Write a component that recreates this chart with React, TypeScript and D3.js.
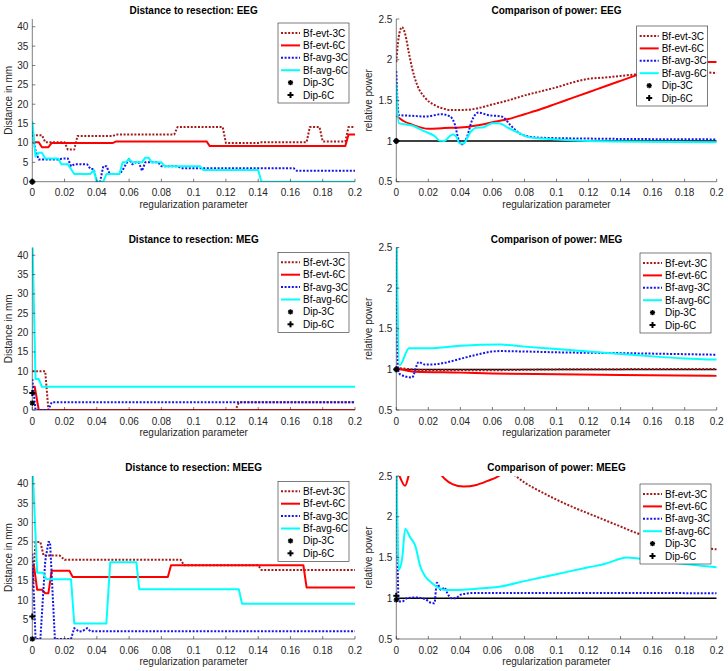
import React from "react";
import * as d3 from "d3";

type Pt = [number, number];

// ---------- shared ticks / labels ----------
const xTicks = [0, 0.02, 0.04, 0.06, 0.08, 0.1, 0.12, 0.14, 0.16, 0.18, 0.2];
const distTicks = [0, 5, 10, 15, 20, 25, 30, 35, 40];
const powTicks = [0.5, 1, 1.5, 2, 2.5];
const seriesNames = ["Bf-evt-3C", "Bf-evt-6C", "Bf-avg-3C", "Bf-avg-6C", "Dip-3C", "Dip-6C"];
const titles = [
  "Distance to resection: EEG",
  "Comparison of power: EEG",
  "Distance to resection: MEG",
  "Comparison of power: MEG",
  "Distance to resection: MEEG",
  "Comparison of power: MEEG",
];

// ---------- EEG distance ----------
const eegDistEvt3: Pt[] = [[0, 12], [0.006, 12], [0.008, 10.2], [0.02, 10.2], [0.022, 8.3], [0.026, 8.3], [0.028, 11.8], [0.05, 11.8], [0.052, 12.2], [0.088, 12.2], [0.09, 14.1], [0.118, 14.1], [0.12, 10], [0.14, 10], [0.142, 10.2], [0.17, 10.2], [0.172, 14.1], [0.178, 14.1], [0.18, 10.4], [0.194, 10.4], [0.196, 14.1], [0.2, 14.1]];
const eegDistEvt6: Pt[] = [[0, 10.2], [0.004, 10.2], [0.006, 8.9], [0.01, 8.9], [0.012, 10], [0.05, 10], [0.052, 10.4], [0.108, 10.4], [0.11, 9.2], [0.194, 9.2], [0.196, 12.2], [0.2, 12.2]];
const eegDistAvg3: Pt[] = [[0, 13], [0.002, 8], [0.004, 5.7], [0.016, 5.7], [0.018, 5.9], [0.02, 6], [0.022, 6], [0.024, 4], [0.026, 4.5], [0.034, 4.5], [0.036, 3.3], [0.038, 3.3], [0.04, 0], [0.042, 0], [0.044, 4], [0.046, 4], [0.048, 2], [0.054, 2], [0.056, 3], [0.058, 4.5], [0.06, 5.9], [0.062, 4.5], [0.064, 5], [0.066, 5], [0.068, 2.8], [0.07, 5], [0.078, 5], [0.08, 4], [0.09, 4], [0.092, 3.5], [0.162, 3.5], [0.164, 2.8], [0.2, 2.8]];
const eegDistAvg6: Pt[] = [[0, 15.6], [0.002, 6.5], [0.004, 7.5], [0.006, 7.5], [0.008, 6], [0.016, 6], [0.018, 4.5], [0.022, 4.5], [0.026, 2], [0.036, 2], [0.038, 3], [0.04, 0], [0.044, 0], [0.046, 2], [0.054, 2], [0.056, 5], [0.058, 5], [0.06, 5.9], [0.062, 5], [0.068, 5], [0.07, 6.2], [0.072, 6.2], [0.074, 5], [0.08, 5], [0.082, 4], [0.104, 4], [0.106, 3], [0.14, 3], [0.142, 0], [0.2, 0]];
const eegDistDip = [0, 0];

// ---------- EEG power ----------
const eegPowEvt3: Pt[] = [[0, 1.97], [0.001, 2.2], [0.002, 2.33], [0.0036, 2.4], [0.0056, 2.31], [0.0077, 2.1], [0.0098, 1.9], [0.013, 1.69], [0.018, 1.53], [0.024, 1.44], [0.03, 1.395], [0.034, 1.38], [0.045, 1.385], [0.05, 1.4], [0.06, 1.45], [0.07, 1.5], [0.08, 1.56], [0.09, 1.61], [0.1, 1.66], [0.11, 1.72], [0.12, 1.765], [0.13, 1.78], [0.14, 1.8], [0.15, 1.82], [0.16, 1.84], [0.17, 1.85], [0.18, 1.855], [0.19, 1.85], [0.2, 1.835]];
const eegPowEvt6: Pt[] = [[0, 1.31], [0.005, 1.24], [0.01, 1.2], [0.02, 1.15], [0.03, 1.16], [0.04, 1.165], [0.05, 1.19], [0.06, 1.23], [0.07, 1.27], [0.08, 1.33], [0.09, 1.39], [0.1, 1.46], [0.11, 1.53], [0.12, 1.6], [0.13, 1.67], [0.14, 1.74], [0.15, 1.81], [0.16, 1.88], [0.17, 1.93], [0.18, 1.96], [0.19, 1.97], [0.2, 1.97]];
const eegPowAvg3: Pt[] = [[0, 1.86], [0.0015, 1.32], [0.01, 1.31], [0.018, 1.3], [0.0285, 1.33], [0.0337, 1.3], [0.0366, 1.2], [0.039, 1.01], [0.0414, 0.96], [0.044, 1.04], [0.047, 1.24], [0.0514, 1.35], [0.057, 1.32], [0.066, 1.3], [0.071, 1.2], [0.0764, 1.1], [0.083, 1.055], [0.091, 1.04], [0.12, 1.03], [0.2, 1.02]];
const eegPowAvg6: Pt[] = [[0, 1.71], [0.0015, 1.22], [0.0098, 1.19], [0.018, 1.115], [0.0243, 1.055], [0.027, 1.005], [0.03, 1.0], [0.0337, 1.065], [0.0355, 1.08], [0.0376, 1.05], [0.0395, 0.97], [0.042, 0.97], [0.046, 1.1], [0.0493, 1.16], [0.0545, 1.17], [0.06, 1.22], [0.064, 1.22], [0.07, 1.16], [0.0764, 1.1], [0.083, 1.045], [0.091, 1.03], [0.12, 1.0], [0.2, 0.985]];
const eegPowDip = [1, 1];

// ---------- MEG distance ----------
const megDistEvt3: Pt[] = [[0, 10], [0.008, 10], [0.01, 0], [0.126, 0], [0.128, 2], [0.2, 2]];
const megDistEvt6: Pt[] = [[0, 6], [0.0015, 6], [0.004, 0], [0.2, 0]];
const megDistAvg3: Pt[] = [[0, 8], [0.002, 0], [0.01, 0], [0.012, 2], [0.2, 2]];
const megDistAvg6: Pt[] = [[0, 46], [0.002, 8], [0.004, 8], [0.006, 6], [0.2, 6]];
const megDistDip = [1.8, 4.4];

// ---------- MEG power ----------
const megPowEvt3: Pt[] = [[0, 1.02], [0.01, 1.0], [0.02, 0.99], [0.06, 0.99], [0.1, 1.0], [0.2, 1.005]];
const megPowEvt6: Pt[] = [[0, 1.02], [0.012, 0.97], [0.04, 0.96], [0.06, 0.95], [0.1, 0.94], [0.14, 0.93], [0.2, 0.92]];
const megPowAvg3: Pt[] = [[0, 2.9], [0.001, 1.0], [0.0023, 0.94], [0.0098, 0.9], [0.014, 1.09], [0.0178, 1.06], [0.0215, 1.06], [0.03, 1.08], [0.04, 1.13], [0.05, 1.18], [0.06, 1.22], [0.065, 1.225], [0.08, 1.22], [0.1, 1.21], [0.14, 1.2], [0.2, 1.18]];
const megPowAvg6: Pt[] = [[0, 2.9], [0.002, 1.05], [0.008, 1.26], [0.02, 1.26], [0.04, 1.29], [0.065, 1.305], [0.08, 1.28], [0.1, 1.25], [0.12, 1.22], [0.14, 1.19], [0.16, 1.16], [0.18, 1.135], [0.2, 1.12]];
const megPowDip = [1, 1];

// ---------- MEEG distance ----------
const meegDistEvt3: Pt[] = [[0, 12.5], [0.002, 25], [0.005, 25], [0.007, 21.5], [0.017, 21.5], [0.02, 20.4], [0.092, 20.4], [0.094, 19], [0.14, 19], [0.142, 17.8], [0.2, 17.8]];
const meegDistEvt6: Pt[] = [[0, 16.5], [0.001, 19], [0.003, 12.7], [0.006, 12.7], [0.008, 11.8], [0.01, 11.8], [0.012, 17.6], [0.023, 17.6], [0.025, 16], [0.084, 16], [0.086, 19], [0.168, 19], [0.17, 13.3], [0.2, 13.3]];
const meegDistAvg3: Pt[] = [[0, 22], [0.002, 0], [0.005, 0], [0.008, 20], [0.01, 25], [0.011, 25], [0.014, 0], [0.024, 0], [0.026, 2.8], [0.029, 1.9], [0.031, 2], [0.034, 2.8], [0.036, 2], [0.2, 2]];
const meegDistAvg6: Pt[] = [[0, 46], [0.003, 17.1], [0.0066, 17.1], [0.0087, 15.4], [0.024, 15.4], [0.026, 4], [0.0459, 4], [0.0483, 19.8], [0.0645, 19.8], [0.0663, 12.8], [0.128, 12.8], [0.13, 9.1], [0.2, 9.1]];
const meegDistDip = [0, 5.8];

// ---------- MEEG power ----------
const meegPowEvt3: Pt[] = [[0, 3.6], [0.03, 3.1], [0.05, 2.85], [0.07, 2.57], [0.0745, 2.5], [0.08, 2.42], [0.09, 2.31], [0.1, 2.21], [0.11, 2.12], [0.12, 2.04], [0.13, 1.96], [0.14, 1.88], [0.15, 1.8], [0.16, 1.74], [0.17, 1.69], [0.18, 1.65], [0.19, 1.62], [0.2, 1.6]];
const meegPowEvt6: Pt[] = [[0, 2.6], [0.002, 2.5], [0.0055, 2.38], [0.008, 2.52], [0.012, 2.7], [0.02, 2.7], [0.026, 2.56], [0.03, 2.47], [0.035, 2.4], [0.042, 2.37], [0.05, 2.39], [0.057, 2.44], [0.064, 2.5], [0.07, 2.6], [0.1, 2.85], [0.2, 3.3]];
const meegPowAvg3: Pt[] = [[0, 2.9], [0.0015, 0.96], [0.0036, 0.96], [0.0066, 1.0], [0.012, 1.01], [0.018, 0.99], [0.0223, 0.94], [0.0238, 0.94], [0.0253, 1.19], [0.028, 1.1], [0.03, 1.13], [0.0318, 1.065], [0.0343, 1.0], [0.0367, 1.0], [0.041, 1.05], [0.049, 1.065], [0.1, 1.065], [0.2, 1.062]];
const meegPowAvg6: Pt[] = [[0, 2.9], [0.0015, 1.35], [0.0036, 1.48], [0.0056, 1.85], [0.0087, 1.745], [0.0119, 1.64], [0.015, 1.39], [0.018, 1.27], [0.022, 1.19], [0.0265, 1.127], [0.0306, 1.1], [0.049, 1.115], [0.066, 1.147], [0.08, 1.21], [0.1, 1.295], [0.12, 1.38], [0.13, 1.42], [0.144, 1.5], [0.16, 1.46], [0.18, 1.42], [0.2, 1.38]];
const meegPowDip = [0.98, 1.03];

// ---------- styling ----------
const styles = [
  { color: "#a31a1a", dash: "2 1.6", width: 2 },
  { color: "#ff0000", dash: "", width: 2 },
  { color: "#1515e8", dash: "2 1.6", width: 2 },
  { color: "#00ffff", dash: "", width: 2 },
];
const FONT = "'Liberation Sans', Arial, Helvetica, sans-serif";
const AX = "#262626";

type PanelDef = {
  title: string;
  kind: "dist" | "pow";
  series: Pt[][];
  dip: number[];
  x0: number;
  x1: number;
  y0: number;
  y1: number;
  legX: number;
  legY: number;
};

const colX = [
  [32.3, 355],
  [396.3, 716.7],
];
const rowY = [
  [19, 181.7],
  [247.5, 410],
  [476, 639],
];
const legendPos = [
  [278, 23],
  [636.7, 26],
  [278, 252.3],
  [640, 253],
  [278, 481.3],
  [640, 484],
];

const allSeries = [
  [eegDistEvt3, eegDistEvt6, eegDistAvg3, eegDistAvg6],
  [eegPowEvt3, eegPowEvt6, eegPowAvg3, eegPowAvg6],
  [megDistEvt3, megDistEvt6, megDistAvg3, megDistAvg6],
  [megPowEvt3, megPowEvt6, megPowAvg3, megPowAvg6],
  [meegDistEvt3, meegDistEvt6, meegDistAvg3, meegDistAvg6],
  [meegPowEvt3, meegPowEvt6, meegPowAvg3, meegPowAvg6],
];
const allDips = [eegDistDip, eegPowDip, megDistDip, megPowDip, meegDistDip, meegPowDip];

const panels: PanelDef[] = titles.map((t, i) => {
  const c = i % 2;
  const r = Math.floor(i / 2);
  return {
    title: t,
    kind: c === 0 ? "dist" : "pow",
    series: allSeries[i],
    dip: allDips[i],
    x0: colX[c][0],
    x1: colX[c][1],
    y0: rowY[r][0],
    y1: rowY[r][1],
    legX: legendPos[i][0],
    legY: legendPos[i][1],
  };
});

function Star({ x, y }: { x: number; y: number }) {
  const s = 2.6;
  return (
    <g stroke="#000" strokeWidth={1.4}>
      <line x1={x - s} y1={y} x2={x + s} y2={y} />
      <line x1={x} y1={y - s} x2={x} y2={y + s} />
      <line x1={x - s * 0.75} y1={y - s * 0.75} x2={x + s * 0.75} y2={y + s * 0.75} />
      <line x1={x - s * 0.75} y1={y + s * 0.75} x2={x + s * 0.75} y2={y - s * 0.75} />
    </g>
  );
}
function Plus({ x, y }: { x: number; y: number }) {
  const s = 3;
  return (
    <g stroke="#000" strokeWidth={2}>
      <line x1={x - s} y1={y} x2={x + s} y2={y} />
      <line x1={x} y1={y - s} x2={x} y2={y + s} />
    </g>
  );
}

function Panel({ p, idx }: { p: PanelDef; idx: number }) {
  const xs = d3.scaleLinear().domain([0, 0.2]).range([p.x0, p.x1]);
  const ys =
    p.kind === "dist"
      ? d3.scaleLinear().domain([0, 42]).range([p.y1, p.y0])
      : d3.scaleLinear().domain([0.5, 2.5]).range([p.y1, p.y0]);
  const yt = p.kind === "dist" ? distTicks : powTicks;
  const line = d3
    .line<Pt>()
    .x((d) => xs(d[0]))
    .y((d) => ys(d[1]))
    .curve(p.kind === "pow" ? d3.curveMonotoneX : d3.curveLinear);
  const clipId = `clip${idx}`;
  const cx = (p.x0 + p.x1) / 2;
  const cy = (p.y0 + p.y1) / 2;
  const ylabel = p.kind === "dist" ? "Distance in mm" : "relative power";
  const fmt = (v: number) => String(v);
  return (
    <g>
      <defs>
        <clipPath id={clipId}>
          <rect x={p.x0} y={p.y0} width={p.x1 - p.x0} height={p.y1 - p.y0} />
        </clipPath>
      </defs>
      {/* title */}
      <text x={cx} y={p.y0 - 5} textAnchor="middle" fontSize={10} fontWeight="bold" fill="#000">
        {p.title}
      </text>
      {/* data */}
      <g clipPath={`url(#${clipId})`}>
        {p.kind === "pow" && (
          <line x1={xs(0)} x2={xs(0.2)} y1={ys(1)} y2={ys(1)} stroke="#000" strokeWidth={1.5} />
        )}
        {p.series.map((s, k) => (
          <path
            key={k}
            d={line(s) || ""}
            fill="none"
            stroke={styles[k].color}
            strokeWidth={styles[k].width}
            strokeDasharray={styles[k].dash || undefined}
            strokeLinejoin="round"
          />
        ))}
      </g>
      {/* axes */}
      <line x1={p.x0} x2={p.x1} y1={p.y1} y2={p.y1} stroke={AX} strokeWidth={0.6} />
      <line x1={p.x0} x2={p.x0} y1={p.y0} y2={p.y1} stroke={AX} strokeWidth={0.6} />
      {xTicks.map((t) => (
        <g key={"x" + t}>
          <line x1={xs(t)} x2={xs(t)} y1={p.y1} y2={p.y1 - 3} stroke={AX} strokeWidth={0.6} />
          <text x={xs(t)} y={p.y1 + 14.5} textAnchor="middle" fontSize={10} fill={AX}>
            {fmt(t)}
          </text>
        </g>
      ))}
      {yt.map((t) => (
        <g key={"y" + t}>
          <line x1={p.x0} x2={p.x0 + 3} y1={ys(t)} y2={ys(t)} stroke={AX} strokeWidth={0.6} />
          <text x={p.x0 - 4} y={ys(t) + 3.5} textAnchor="end" fontSize={10} fill={AX}>
            {fmt(t)}
          </text>
        </g>
      ))}
      <text x={cx} y={p.y1 + 26} textAnchor="middle" fontSize={10} fill={AX}>
        regularization parameter
      </text>
      <text
        transform={`translate(${p.kind === "dist" ? p.x0 - 20.5 : p.x0 - 24},${cy}) rotate(-90)`}
        textAnchor="middle"
        fontSize={10}
        fill={AX}
      >
        {ylabel}
      </text>
      {/* dipole markers */}
      <Star x={xs(0)} y={ys(p.dip[0])} />
      <Plus x={xs(0)} y={ys(p.dip[1])} />
      {/* legend */}
      <g>
        <rect x={p.legX} y={p.legY} width={71} height={80} fill="#fff" stroke={AX} strokeWidth={0.6} />
        {seriesNames.map((n, k) => {
          const yy = p.legY + 10 + k * 12.4;
          return (
            <g key={n}>
              {k < 4 ? (
                <line
                  x1={p.legX + 3}
                  x2={p.legX + 22}
                  y1={yy}
                  y2={yy}
                  stroke={styles[k].color}
                  strokeWidth={styles[k].width}
                  strokeDasharray={styles[k].dash || undefined}
                />
              ) : k === 4 ? (
                <Star x={p.legX + 12.5} y={yy} />
              ) : (
                <Plus x={p.legX + 12.5} y={yy} />
              )}
              <text x={p.legX + 25} y={yy + 3.5} fontSize={10} fill="#000">
                {n}
              </text>
            </g>
          );
        })}
      </g>
    </g>
  );
}

export default function App() {
  return (
    <svg
      width={728}
      height={671}
      style={{ position: "absolute", left: 0, top: 0, background: "#fff", fontFamily: FONT }}
    >
      <rect width={728} height={671} fill="#fff" />
      {panels.map((p, i) => (
        <Panel key={i} p={p} idx={i} />
      ))}
    </svg>
  );
}
